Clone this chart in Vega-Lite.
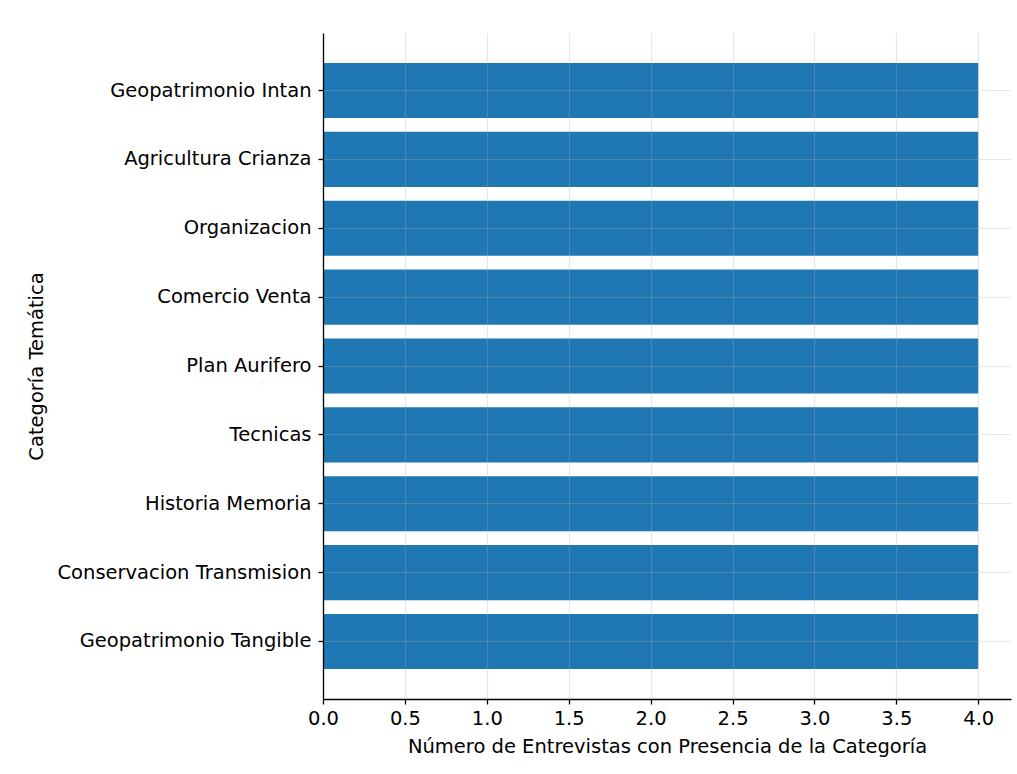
{
  "$schema": "https://vega.github.io/schema/vega-lite/v6.json",
  "autosize": {"type": "none"},
  "padding": {"left": 323, "top": 33, "right": 6, "bottom": 75},
  "width": 688,
  "height": 666,
  "background": "white",
  "config": {
    "font": "DejaVu Sans",
    "view": {"stroke": null},
    "axis": {
      "labelFont": "DejaVu Sans",
      "titleFont": "DejaVu Sans",
      "labelFontSize": 19.5,
      "titleFontSize": 19.5,
      "titleFontWeight": "normal",
      "labelColor": "black",
      "titleColor": "black",
      "labelLimit": 500,
      "labelFlush": false,
      "labelOverlap": false,
      "domainColor": "black",
      "domainWidth": 1.3,
      "tickColor": "black",
      "tickWidth": 1.3,
      "tickSize": 5,
      "gridColor": "#b0b0b0",
      "gridOpacity": 0.3,
      "gridWidth": 1.2
    }
  },
  "data": {
    "values": [
      {"categoria": "Geopatrimonio Intan", "n": 4},
      {"categoria": "Agricultura Crianza", "n": 4},
      {"categoria": "Organizacion", "n": 4},
      {"categoria": "Comercio Venta", "n": 4},
      {"categoria": "Plan Aurifero", "n": 4},
      {"categoria": "Tecnicas", "n": 4},
      {"categoria": "Historia Memoria", "n": 4},
      {"categoria": "Conservacion Transmision", "n": 4},
      {"categoria": "Geopatrimonio Tangible", "n": 4}
    ]
  },
  "mark": {"type": "bar", "color": "#1f77b4"},
  "encoding": {
    "y": {
      "field": "categoria",
      "type": "nominal",
      "sort": null,
      "scale": {"paddingInner": 0.2, "paddingOuter": 0.435},
      "axis": {
        "title": "Categoría Temática",
        "labelPadding": 7,
        "titlePadding": 77,
        "grid": true,
        "zindex": 1
      }
    },
    "x": {
      "field": "n",
      "type": "quantitative",
      "scale": {"domain": [0, 4.2], "nice": false},
      "axis": {
        "title": "Número de Entrevistas con Presencia de la Categoría",
        "values": [0, 0.5, 1, 1.5, 2, 2.5, 3, 3.5, 4],
        "format": ".1f",
        "labelPadding": 5,
        "titlePadding": 10,
        "grid": true,
        "zindex": 1
      }
    }
  }
}
